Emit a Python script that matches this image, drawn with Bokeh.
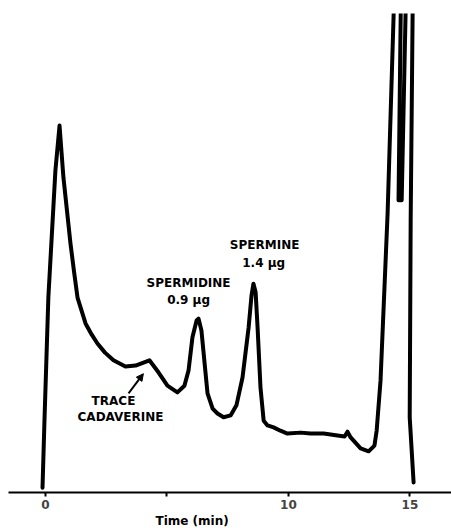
from bokeh.plotting import figure
from bokeh.models import Range1d, FixedTicker, ColumnDataSource, Arrow, NormalHead, Title
from bokeh.core.properties import value
from bokeh.embed import file_html
from bokeh.resources import INLINE

# Chromatogram trace (time in min, detector signal in % of full scale; >100 = off-scale)
time_min = [-0.12, -0.04, 0.12, 0.41, 0.58, 0.74, 1.03, 1.18, 1.32, 1.65, 1.90, 2.14, 2.45,
            2.80, 3.29, 3.71,
            4.28, 4.65, 5.02, 5.43, 5.72, 5.89, 6.05, 6.22, 6.30, 6.42, 6.50, 6.67, 6.88,
            7.08, 7.33, 7.62, 7.86, 8.11, 8.36, 8.48, 8.56, 8.65, 8.73, 8.85, 8.98, 9.14,
            9.39, 9.67, 9.96, 10.50, 10.91, 11.45, 12.02, 12.31, 12.43, 12.56, 12.97, 13.30,
            13.54, 13.63, 13.79, 14.08,
            14.33, 14.37, 14.62, 14.62, 14.53, 14.66, 14.82, 14.86, 15.11, 15.11, 15.03,
            14.99, 15.15]
signal = [1.0, 15.0, 40.7, 67.2, 76.6, 65.8, 52.0, 46.0, 40.7, 35.3, 33.0, 31.1, 29.2,
          27.6, 26.3, 26.5,
          27.6, 25.1, 22.3, 20.9, 22.3, 25.5, 32.4, 35.9, 36.3, 33.8, 29.6, 20.7, 17.5,
          16.5, 15.7, 16.1, 18.2, 24.0, 34.4, 41.1, 43.6, 41.8, 34.4, 21.9, 15.0, 14.0,
          13.6, 12.9, 12.3, 12.5, 12.3, 12.3, 11.9, 11.7, 12.7, 11.5, 9.2, 8.6,
          9.8, 12.9, 23.4, 58.2,
          100, 110, 110, 100, 61.0, 61.0, 100, 110, 110, 100, 56.8,
          15.7, 2.1]

tick_values = [0, 5, 10, 15]
tick_labels = {5: ""}
x_title = "Time (min)"

label_texts = ["SPERMIDINE", "0.9 µg", "SPERMINE", "1.4 µg", "TRACE", "CADAVERINE"]
label_x = [5.89, 5.89, 9.02, 8.98, 2.80, 3.09]
label_y = [43.8, 40.1, 51.6, 48.0, 19.0, 15.7]

arrow_start = (3.42, 20.7)
arrow_end = (4.03, 24.8)

p = figure(width=451, height=532, output_backend="svg", toolbar_location=None,
           x_range=Range1d(-1.52, 16.71), y_range=Range1d(0, 100),
           y_axis_location=None, min_border_left=8, min_border_right=0,
           min_border_top=13, min_border_bottom=40)
p.outline_line_color = None
p.grid.visible = False
p.background_fill_color = "white"
p.border_fill_color = "white"

p.line(time_min, signal, line_width=4, line_color="black", line_join="round", line_cap="round")

src = ColumnDataSource(dict(x=label_x, y=label_y, text=label_texts))
p.text(x="x", y="y", text="text", source=src, text_align="center", text_baseline="middle",
       text_font=value("DejaVu Sans"), text_font_style="bold", text_font_size="12px",
       text_color="black")

p.add_layout(Arrow(end=NormalHead(size=7, fill_color="black", line_color="black"),
                   x_start=arrow_start[0], y_start=arrow_start[1],
                   x_end=arrow_end[0], y_end=arrow_end[1],
                   line_width=2, line_color="black"))

ax = p.xaxis[0]
ax.ticker = FixedTicker(ticks=tick_values)
ax.major_label_overrides = tick_labels
ax.axis_line_width = 2
ax.axis_line_color = "black"
ax.major_tick_in = 0
ax.major_tick_out = 4
ax.major_tick_line_width = 2
ax.minor_tick_line_color = None
ax.major_label_text_font = "DejaVu Sans"
ax.major_label_text_font_style = "bold"
ax.major_label_text_font_size = "12px"
ax.major_label_standoff = 3

p.add_layout(Title(text=x_title, align="left", offset=147, standoff=0,
                   text_font="DejaVu Sans", text_font_style="bold", text_font_size="12px",
                   text_color="black"), "below")

open("out.html", "w").write(file_html(p, INLINE))
